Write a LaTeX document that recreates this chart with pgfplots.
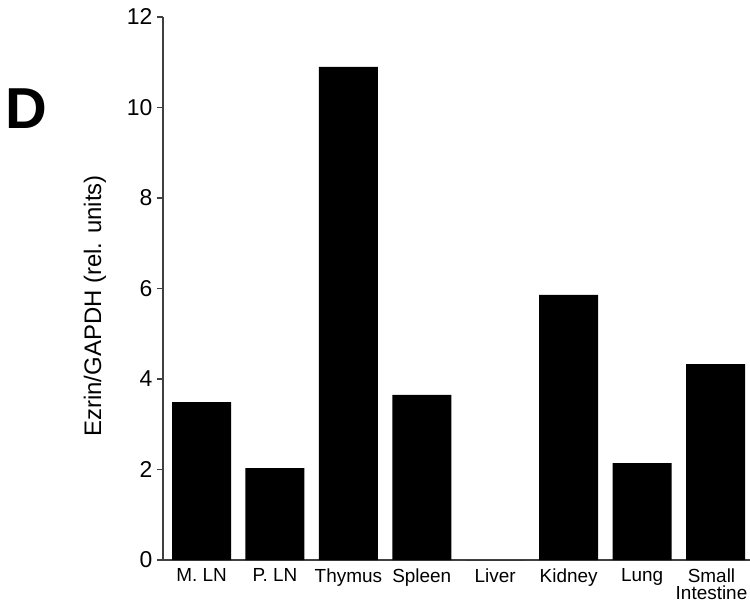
\documentclass[border=0pt]{standalone}
\usepackage{pgfplots}
\pgfplotsset{compat=1.18}
\usepackage{fontspec}
\setmainfont{Liberation Sans}
\begin{document}
\begin{tikzpicture}
\begin{axis}[
  at={(0,0)}, anchor=south west,
  scale only axis,
  width=587bp, height=543bp,
  ymin=0, ymax=12,
  xmin=-0.525, xmax=7.47,
  ytick={0,2,...,12},
  xtick={0,1,2,3,4,5,6,7},
  xticklabels={M. LN, P. LN, Thymus, Spleen, Liver, Kidney, Lung, Small\hspace*{8bp}\\Intestine\hspace*{8bp}},
  axis lines=left,
  axis line style={-, black!75, line width=1.3bp},
  major tick length=6bp,
  tick align=outside,
  ytick style={black!75, line width=1.1bp},
  xtick style={draw=none},
  /pgf/number format/assume math mode=true,
  yticklabel style={font=\fontsize{23}{24}\selectfont, xshift=-1bp},
  xticklabel style={font=\fontsize{19}{17.5}\selectfont, align=center, anchor=north, yshift=1bp},
  ylabel={Ezrin/GAPDH (rel. units)},
  ylabel style={font=\fontsize{24}{26}\selectfont, at={(axis description cs:-0.1158,0.468)}, anchor=center},
  ybar, bar width=59bp, bar shift=0pt,
  clip=false,
]
\addplot[fill=black, draw=none] coordinates {
  (0,3.49) (1,2.03) (2,10.9) (3,3.65) (4,0) (5,5.86) (6,2.14) (7,4.33)
};
\end{axis}
\node[font=\bfseries\fontsize{58}{60}\selectfont] at (-137bp,451bp) {D};
\pgfresetboundingbox
\path[use as bounding box] (-163bp,-45bp) rectangle (587bp,560bp);
\end{tikzpicture}
\end{document}
